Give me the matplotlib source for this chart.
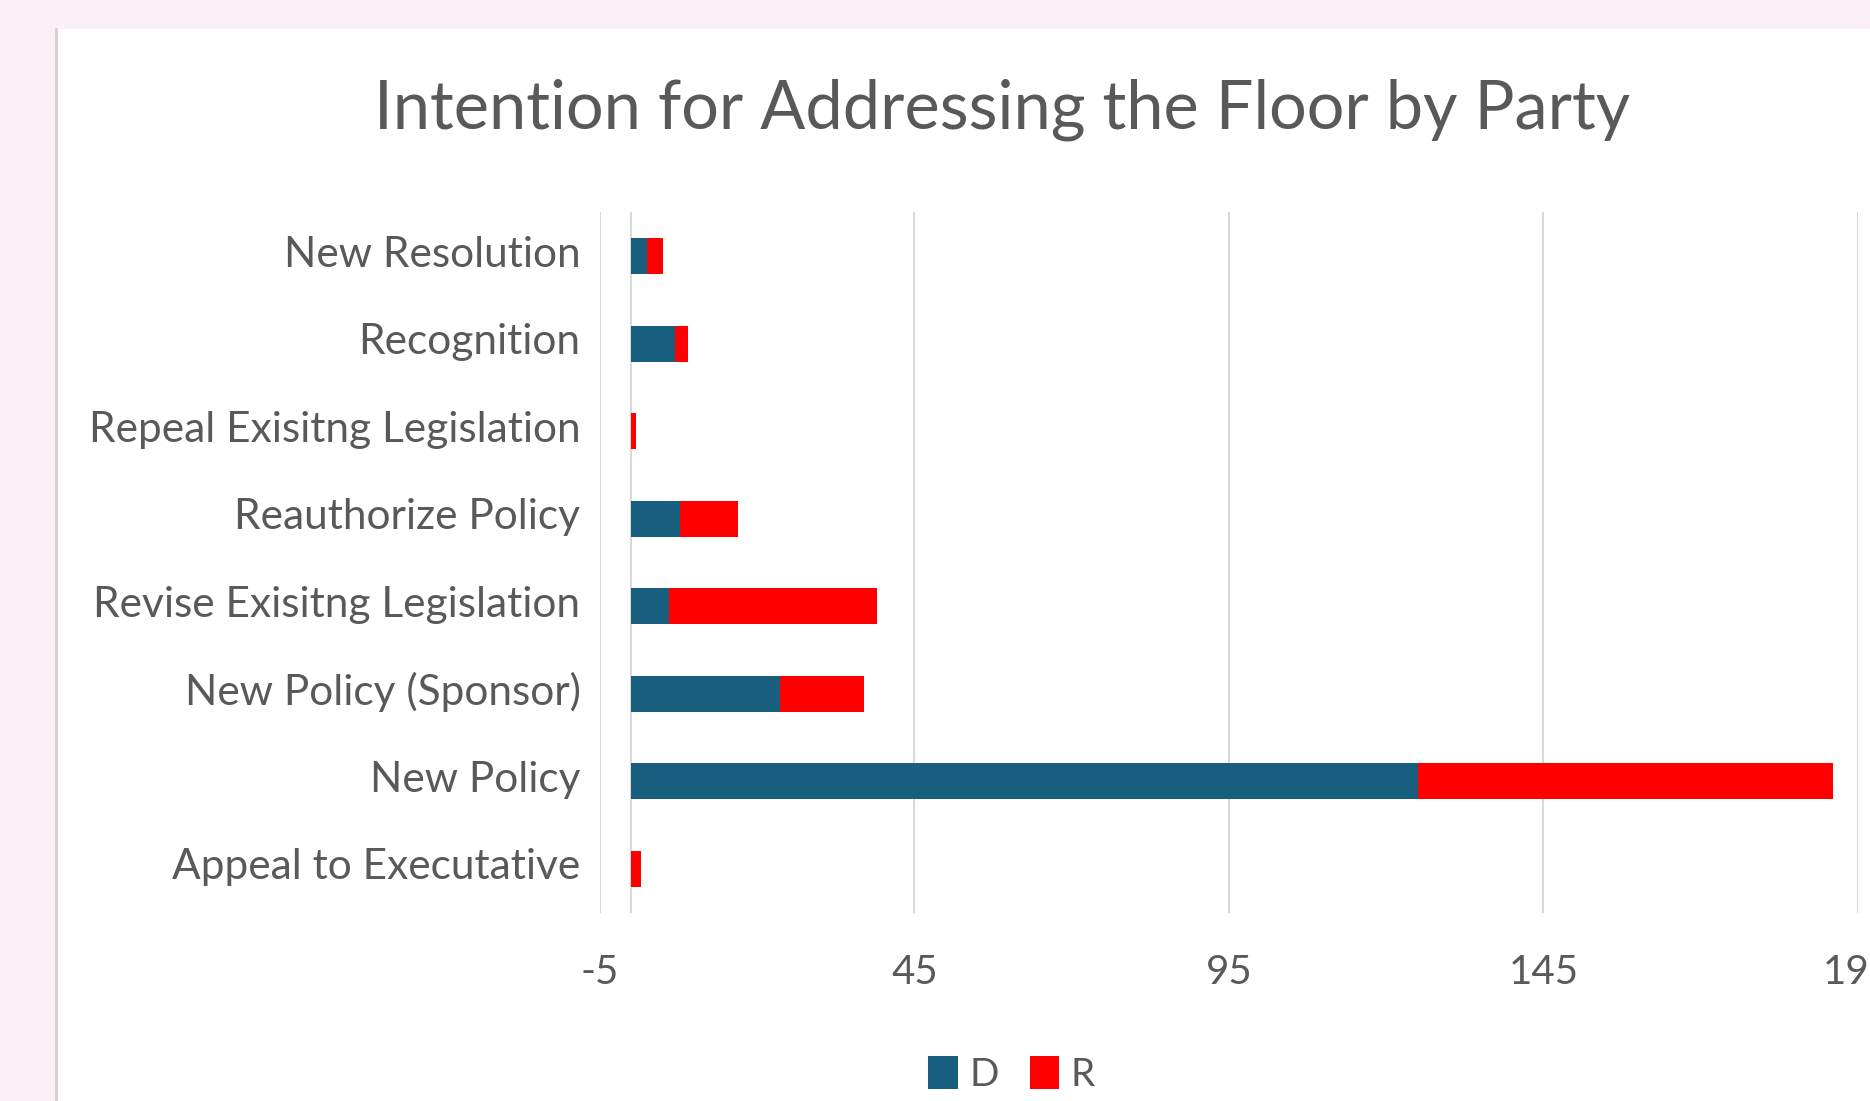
import matplotlib
matplotlib.use("Agg")
import matplotlib.pyplot as plt
import matplotlib.transforms as mtransforms
from matplotlib.patches import Rectangle, Patch
from matplotlib.lines import Line2D

# data, top to bottom as drawn
categories = ["New Resolution", "Recognition", "Repeal Exisitng Legislation",
              "Reauthorize Policy", "Revise Exisitng Legislation",
              "New Policy (Sponsor)", "New Policy", "Appeal to Executative"]
d_counts = [2.5, 7, 0, 7.8, 6, 23.6, 125, 0]
r_counts = [2.5, 2, 0.7, 9.1, 33, 13.4, 66, 1.6]
x_ticks = [-5, 45, 95, 145, 195]

blue = "#185f7f"
red = "#ff0000"
grey_txt = "#595959"
grid_col = "#d9d9d9"

plt.rcParams['font.family'] = ['Lato', 'DejaVu Sans']

fig = plt.figure(figsize=(18.7, 11.01), dpi=100)
fig.patch.set_facecolor("#fcf0f7")

# white chart area with thin grey left edge
fig.add_artist(Rectangle((0.030, 0), 0.97, 0.974, transform=fig.transFigure,
                         facecolor="white", edgecolor="none", zorder=0))
fig.add_artist(Line2D([0.030, 0.030], [0, 0.974], transform=fig.transFigure,
                      color="#d0d0d0", lw=2, zorder=1))

ax = fig.add_axes([0.3208, 0.1712, 0.6728, 0.636])
ax.set_facecolor("none")

y = list(range(len(categories)))
ax.barh(y, d_counts, height=0.41, color=blue, label="D", zorder=3)
ax.barh(y, r_counts, left=d_counts, height=0.41, color=red, label="R", zorder=3)

ax.set_xlim(-5, 195)
ax.set_ylim(-0.5, len(categories) - 0.5)
ax.invert_yaxis()
ax.set_xticks(x_ticks)
ax.set_xticklabels([str(t) for t in x_ticks])
ax.set_yticks(y)
ax.set_yticklabels(categories)
ax.tick_params(axis="both", length=0, labelsize=29, labelcolor=grey_txt)
ax.tick_params(axis="y", labelsize=30.5, pad=14)
ax.tick_params(axis="x", pad=30)
for lab in ax.get_xticklabels():
    lab.set_clip_on(False)
# nudge category labels slightly up, as in the original
shift = mtransforms.ScaledTranslation(0, 5 / 100, fig.dpi_scale_trans)
for lab in ax.get_yticklabels():
    lab.set_transform(lab.get_transform() + shift)

ax.grid(axis="x", color=grid_col, lw=1.5, zorder=0)
ax.axvline(0, color=grid_col, lw=1.5, zorder=1)
for s in ax.spines.values():
    s.set_visible(False)

fig.text(0.536, 0.900, "Intention for Addressing the Floor by Party",
         ha="center", va="center", fontsize=48, color=grey_txt)

handles = [Patch(facecolor=blue, label="D"), Patch(facecolor=red, label="R")]
fig.legend(handles=handles, loc="center", bbox_to_anchor=(0.541, 0.024), ncol=2,
           frameon=False, fontsize=28, labelcolor=grey_txt,
           handlelength=0.75, handleheight=0.9, handletextpad=0.3, columnspacing=0.8)

fig.savefig("out.png", dpi=100, facecolor=fig.get_facecolor())
